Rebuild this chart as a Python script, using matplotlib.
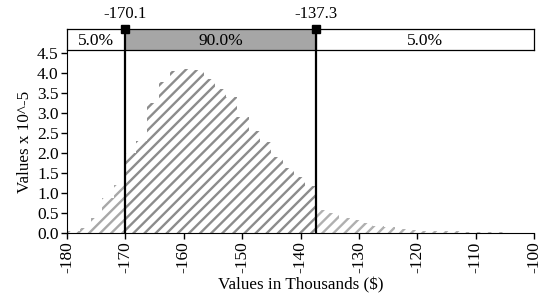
import numpy as np
import matplotlib
matplotlib.use("Agg")
from matplotlib import pyplot as plt

# histogram (density x 10^-5), equal bins of 1.93k$
bin_start = -179.75
bin_w = 1.93
left_h = [0.05, 0.12, 0.38, 0.87, 1.2]
mid_h = [2.0, 2.3, 3.25, 3.77, 4.05, 4.1, 4.08, 3.85, 3.6, 3.4, 2.9,
         2.55, 2.28, 1.9, 1.62, 1.4, 1.17]
right_h = [0.58, 0.5, 0.38, 0.33, 0.25, 0.18, 0.15, 0.1, 0.08, 0.06,
           0.05, 0.04, 0.04, 0.03, 0.03, 0.02, 0.02, 0.01]

lo_cut = -170.1
hi_cut = -137.3
band_labels = ["5.0%", "90.0%", "5.0%"]
xticks = [-180, -170, -160, -150, -140, -130, -120, -110, -100]
yticks = [0.0, 0.5, 1.0, 1.5, 2.0, 2.5, 3.0, 3.5, 4.0, 4.5]

plt.rcParams['font.family'] = ['Liberation Serif', 'DejaVu Serif']
plt.rcParams['hatch.linewidth'] = 1.7

W, H = 549, 299
fig = plt.figure(figsize=(W / 100, H / 100), dpi=100)
ax = fig.add_axes([67 / W, (H - 233) / H, (534 - 67) / W, (233 - 50) / H])
band = fig.add_axes([67 / W, (H - 50) / H, (534 - 67) / W, 21 / H])

heights = left_h + mid_h + right_h
edges = bin_start + bin_w * np.arange(len(heights))
n1 = len(left_h)
n2 = n1 + len(mid_h)

ax.bar(edges[:n1], left_h, width=bin_w, align='edge', facecolor='white',
       edgecolor='#a8a8a8', linewidth=0, hatch='///')
ax.bar(edges[n1:n2], mid_h, width=bin_w, align='edge', facecolor='white',
       edgecolor='#8c8c8c', linewidth=0, hatch='///')
ax.bar(edges[n2:], right_h, width=bin_w, align='edge', facecolor='white',
       edgecolor='#b0b0b0', linewidth=0, hatch='///')

for c in (lo_cut, hi_cut):
    ax.axvline(c, color='black', lw=1.6, zorder=5)

ax.set_xlim(-180, -100)
ax.set_ylim(0, 4.575)
ax.set_xticks(xticks)
ax.set_xticklabels([str(t) for t in xticks], rotation=90)
ax.set_yticks(yticks)
ax.set_yticklabels(["%.1f" % t for t in yticks])
ax.tick_params(labelsize=12.5, length=4, width=1, pad=2)
ax.spines['top'].set_visible(False)
ax.spines['right'].set_visible(False)
ax.set_xlabel('Values in Thousands ($)', fontsize=12.3, labelpad=3)
ax.set_ylabel('Values x 10^-5', fontsize=12.3, labelpad=3)

# percentile band on top
band.set_xlim(-180, -100)
band.set_ylim(0, 1)
band.axvspan(lo_cut, hi_cut, color='#a6a6a6')
band.set_xticks([])
band.set_yticks([])
for s in band.spines.values():
    s.set_linewidth(0.9)
for c in (lo_cut, hi_cut):
    band.axvline(c, color='black', lw=1.6)
    band.plot([c], [1], 's', color='black', ms=6, clip_on=False, zorder=6)
    band.text(c, 1.35, "%.1f" % c, ha='center', va='bottom', fontsize=12)
centers = [(-180 + lo_cut) / 2, (lo_cut + hi_cut) / 2, (hi_cut - 100) / 2]
for x, lab in zip(centers, band_labels):
    band.text(x, 0.42, lab, ha='center', va='center', fontsize=12.5)

fig.savefig('out.png', dpi=100)
